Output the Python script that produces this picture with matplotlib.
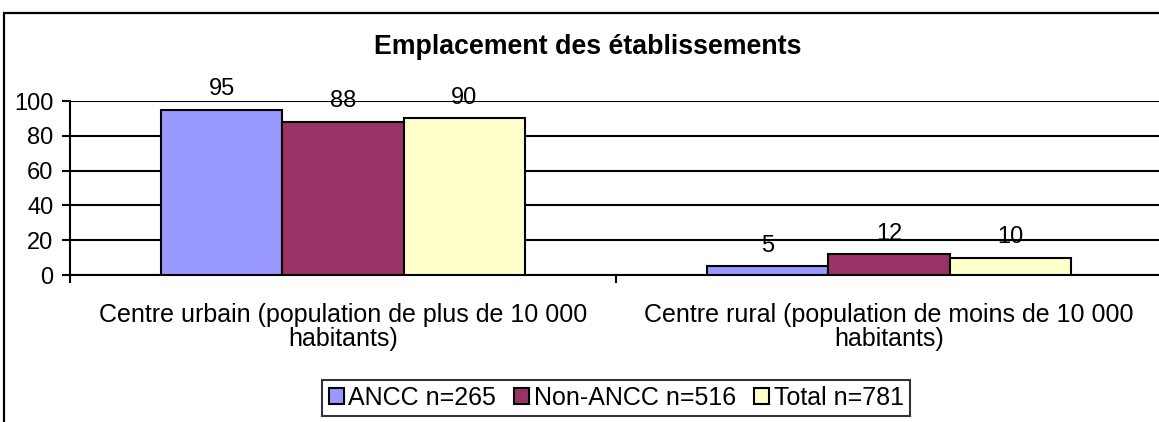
import matplotlib
matplotlib.use("Agg")
import matplotlib.pyplot as plt
from matplotlib.patches import Rectangle
import numpy as np

categories = ["Centre urbain (population de plus de 10 000\nhabitants)",
              "Centre rural (population de moins de 10 000\nhabitants)"]
series_names = ["ANCC n=265", "Non-ANCC n=516", "Total n=781"]
ancc = [95, 5]
non_ancc = [88, 12]
total = [90, 10]
colors = ["#9999FF", "#993366", "#FFFFCC"]
yticks = [0, 20, 40, 60, 80, 100]
title = "Emplacement des établissements"

plt.rcParams['font.family'] = ['Liberation Sans', 'DejaVu Sans']
FS = 17
FS2 = 18

W, H = 1159, 422
fig = plt.figure(figsize=(W / 100, H / 100), dpi=100)

# outer chart frame (cropped on right/bottom)
fig.patches.append(Rectangle((4 / W, -0.1), 1.2, (H - 13) / H + 0.1,
                             transform=fig.transFigure, fill=False,
                             edgecolor="black", linewidth=1.6))

ax = fig.add_axes([70 / W, (H - 275) / H, (1162 - 70) / W, (275 - 101) / H])
ax.set_xlim(0, 2)
ax.set_ylim(0, 100)

bw = 1 / 4.5
x = np.arange(len(categories)) + 0.5
for i, (vals, name) in enumerate(zip([ancc, non_ancc, total], series_names)):
    pos = x + (i - 1) * bw
    ax.bar(pos, vals, width=bw, color=colors[i], edgecolor="black",
           linewidth=1.5, label=name, zorder=3)
    for p, v in zip(pos, vals):
        ax.annotate(str(v), (p, v), xytext=(0, 10.5), textcoords="offset points",
                    ha="center", va="baseline", fontsize=FS, zorder=4)

ax.set_yticks(yticks)
ax.set_yticklabels([str(t) for t in yticks], fontsize=FS)
ax.yaxis.grid(True, color="black", linewidth=1.5, zorder=0)
ax.set_axisbelow(True)
ax.tick_params(axis="y", direction="out", length=6, width=1.5, pad=6)

ax.set_xticks([0, 1, 2])
ax.set_xticklabels([])
ax.set_xticks(x, minor=True)
ax.set_xticklabels(categories, minor=True, fontsize=FS2, linespacing=1.02)
ax.tick_params(axis="x", which="major", direction="out", length=6, width=1.5)
ax.tick_params(axis="x", which="minor", length=0, pad=20)

for s in ["top", "right"]:
    ax.spines[s].set_visible(False)
ax.spines["left"].set_linewidth(1.5)
ax.spines["bottom"].set_linewidth(1.5)

fig.text(588 / W, 1 - 47 / H, title, ha="center", va="center",
         fontsize=19.3, fontweight="bold")

leg = fig.legend(loc="center", bbox_to_anchor=(616 / W, 1 - 398 / H),
                 ncol=3, fontsize=FS2, frameon=True, fancybox=False,
                 edgecolor="black", handlelength=0.6, handleheight=0.6,
                 handletextpad=0.2, columnspacing=0.7, borderpad=0.25,
                 borderaxespad=0)
leg.get_frame().set_linewidth(1.5)

fig.savefig("out.png", dpi=100)
